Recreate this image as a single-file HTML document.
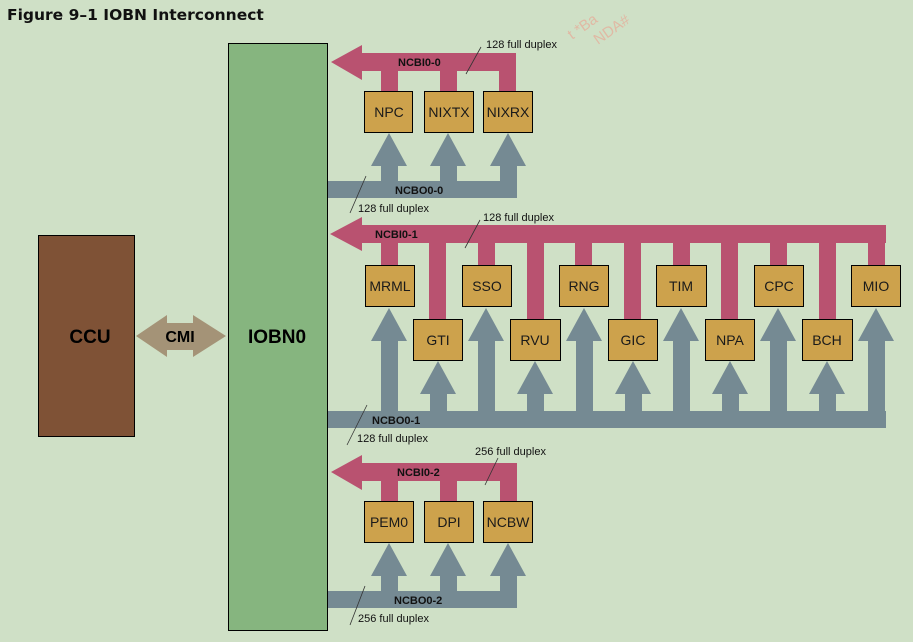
<!DOCTYPE html>
<html><head><meta charset="utf-8"><style>
html,body{margin:0;padding:0;background:#cfe0c6;}
svg{display:block;}
</style></head><body>
<svg width="913" height="642" viewBox="0 0 913 642" xmlns="http://www.w3.org/2000/svg" font-family="'Liberation Sans', Arial, sans-serif">
<rect width="913" height="642" fill="#cfe0c6"/>
<text x="7" y="20" font-size="15.5" font-weight="bold" fill="#111" font-family="'DejaVu Sans', sans-serif">Figure 9–1  IOBN Interconnect</text>
<text x="572" y="40" font-size="15" fill="#e0b9a4" transform="rotate(-35 572 40)">t *Ba</text>
<text x="598" y="45" font-size="15" fill="#e0b9a4" transform="rotate(-35 598 45)">NDA#</text>

<!-- CCU -->
<rect x="38.5" y="235.5" width="96" height="201" fill="#7f5236" stroke="#000"/>
<text x="90" y="343" font-size="19" font-weight="bold" text-anchor="middle">CCU</text>
<!-- CMI -->
<polygon points="136,336 167,315 167,323 193,323 193,315 226,336 193,357 193,350 167,350 167,357" fill="#a49377"/>
<text x="180" y="342" font-size="16" font-weight="bold" text-anchor="middle">CMI</text>
<!-- IOBN0 -->
<rect x="228.5" y="43.5" width="99" height="587" fill="#86b57f" stroke="#000"/>
<text x="277" y="343" font-size="19" font-weight="bold" text-anchor="middle">IOBN0</text>

<g fill="#b95270">
<polygon points="331,62 362,45 362,53 516,53 516,71 362,71 362,80"/>
<rect x="381" y="70" width="17" height="22"/><rect x="440" y="70" width="17" height="22"/><rect x="499" y="53" width="17" height="39"/>
<polygon points="330,234 362,217 362,225 886,225 886,243 362,243 362,251"/>
<rect x="381" y="242" width="17" height="24"/><rect x="429" y="242" width="17" height="78"/>
<rect x="478" y="242" width="17" height="24"/><rect x="527" y="242" width="17" height="78"/>
<rect x="575" y="242" width="17" height="24"/><rect x="624" y="242" width="17" height="78"/>
<rect x="673" y="242" width="17" height="24"/><rect x="721" y="242" width="17" height="78"/>
<rect x="770" y="242" width="17" height="24"/><rect x="819" y="242" width="17" height="78"/>
<rect x="868" y="242" width="17" height="24"/>
<polygon points="331,472 362,455 362,463 517,463 517,481 362,481 362,490"/>
<rect x="381" y="480" width="17" height="22"/><rect x="440" y="480" width="17" height="22"/><rect x="500" y="463" width="17" height="39"/>
</g>

<g fill="#758a93">
<rect x="328" y="181" width="189" height="17"/>
<polygon points="389,133 407,166 398,166 398,182 381,182 381,166 371,166"/>
<polygon points="448,133 466,166 457,166 457,182 440,182 440,166 430,166"/>
<polygon points="508,133 526,166 517,166 517,182 500,182 500,166 490,166"/>
<rect x="328" y="411" width="558" height="17"/>
<polygon points="389,308 407,341 398,341 398,412 381,412 381,341 371,341"/>
<polygon points="486,308 504,341 495,341 495,412 478,412 478,341 468,341"/>
<polygon points="584,308 602,341 593,341 593,412 576,412 576,341 566,341"/>
<polygon points="681,308 699,341 690,341 690,412 673,412 673,341 663,341"/>
<polygon points="778,308 796,341 787,341 787,412 770,412 770,341 760,341"/>
<polygon points="876,308 894,341 885,341 885,412 868,412 868,341 858,341"/>
<polygon points="438,361 456,394 447,394 447,412 430,412 430,394 420,394"/>
<polygon points="535,361 553,394 544,394 544,412 527,412 527,394 517,394"/>
<polygon points="633,361 651,394 642,394 642,412 625,412 625,394 615,394"/>
<polygon points="730,361 748,394 739,394 739,412 722,412 722,394 712,394"/>
<polygon points="827,361 845,394 836,394 836,412 819,412 819,394 809,394"/>
<rect x="328" y="591" width="189" height="17"/>
<polygon points="389,543 407,576 398,576 398,592 381,592 381,576 371,576"/>
<polygon points="448,543 466,576 457,576 457,592 440,592 440,576 430,576"/>
<polygon points="508,543 526,576 517,576 517,592 500,592 500,576 490,576"/>
</g>

<g fill="#cda24c" stroke="#000" stroke-width="1">
<rect x="364.5" y="91.5" width="48" height="41"/><rect x="424.5" y="91.5" width="49" height="41"/><rect x="483.5" y="91.5" width="49" height="41"/>
<rect x="365.5" y="265.5" width="49" height="41"/><rect x="462.5" y="265.5" width="49" height="41"/><rect x="559.5" y="265.5" width="49" height="41"/>
<rect x="656.5" y="265.5" width="50" height="41"/><rect x="754.5" y="265.5" width="49" height="41"/><rect x="851.5" y="265.5" width="49" height="41"/>
<rect x="413.5" y="319.5" width="49" height="41"/><rect x="510.5" y="319.5" width="50" height="41"/><rect x="608.5" y="319.5" width="49" height="41"/>
<rect x="705.5" y="319.5" width="49" height="41"/><rect x="802.5" y="319.5" width="50" height="41"/>
<rect x="364.5" y="501.5" width="49" height="41"/><rect x="424.5" y="501.5" width="49" height="41"/><rect x="483.5" y="501.5" width="49" height="41"/>
</g>

<g font-size="14" text-anchor="middle" fill="#1a1a1a">
<text x="389" y="117">NPC</text><text x="449" y="117">NIXTX</text><text x="508" y="117">NIXRX</text>
<text x="390" y="291">MRML</text><text x="487" y="291">SSO</text><text x="584" y="291">RNG</text>
<text x="681" y="291">TIM</text><text x="779" y="291">CPC</text><text x="876" y="291">MIO</text>
<text x="438" y="345">GTI</text><text x="535" y="345">RVU</text><text x="633" y="345">GIC</text>
<text x="730" y="345">NPA</text><text x="827" y="345">BCH</text>
<text x="389" y="527">PEM0</text><text x="449" y="527">DPI</text><text x="508" y="527">NCBW</text>
</g>

<g font-size="11" font-weight="bold" fill="#111">
<text x="398" y="66">NCBI0-0</text>
<text x="395" y="194">NCBO0-0</text>
<text x="375" y="238">NCBI0-1</text>
<text x="372" y="424">NCBO0-1</text>
<text x="397" y="476">NCBI0-2</text>
<text x="394" y="604">NCBO0-2</text>
</g>
<g font-size="11" fill="#111" xml:space="preserve">
<text x="486" y="48">128  full duplex</text>
<text x="358" y="212">128  full duplex</text>
<text x="483" y="221">128  full duplex</text>
<text x="357" y="442">128  full duplex</text>
<text x="475" y="455">256  full duplex</text>
<text x="358" y="622">256  full duplex</text>
</g>
<g stroke="#333" stroke-width="0.8">
<line x1="466" y1="74" x2="481" y2="47"/>
<line x1="350" y1="213" x2="366" y2="176"/>
<line x1="465" y1="248" x2="480" y2="220"/>
<line x1="347" y1="445" x2="367" y2="405"/>
<line x1="485" y1="485" x2="498" y2="458"/>
<line x1="350" y1="625" x2="365" y2="586"/>
</g>
</svg>
</body></html>
